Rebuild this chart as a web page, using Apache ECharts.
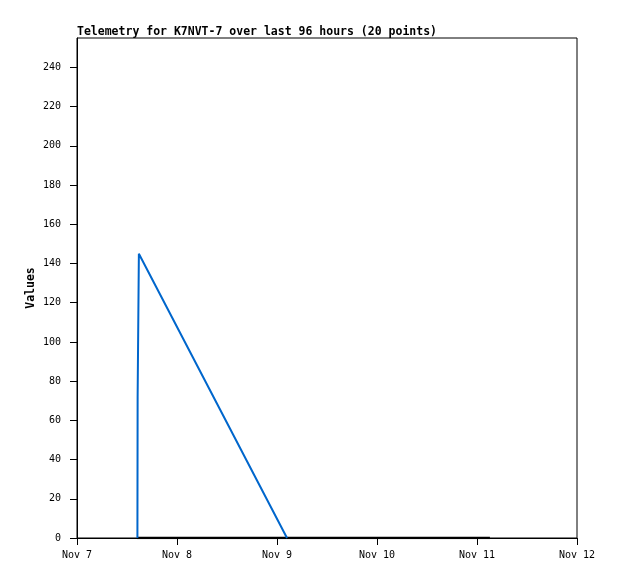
<!DOCTYPE html>
<html>
<head>
<meta charset="utf-8">
<script src="https://cdn.jsdelivr.net/npm/echarts@6/dist/echarts.min.js"></script>
<style>html,body{margin:0;padding:0;background:#fff}#c{width:618px;height:579px}</style>
</head>
<body>
<div id="c"></div>
<script>
// hours since Nov 7 00:00
var xTickLabels = ['Nov 7', 'Nov 8', 'Nov 9', 'Nov 10', 'Nov 11', 'Nov 12'];
var xTickHours = [0, 24, 48, 72, 96, 120];
var yTicks = [0, 20, 40, 60, 80, 100, 120, 140, 160, 180, 200, 220, 240];
var blueHours = [14.5, 14.55, 14.85, 50.4];
var blueValues = [0, 72, 145, 0];
var blackHours = [14.4, 99.1];
var blackValues = [0, 0];

function pairs(xs, ys) { return xs.map(function (x, i) { return [x, ys[i]]; }); }

var font = 'DejaVu Sans Mono';
var chart = echarts.init(document.getElementById('c'), null, { renderer: 'canvas' });
chart.setOption({
  animation: false,
  backgroundColor: '#fff',
  title: {
    text: 'Telemetry for K7NVT-7 over last 96 hours (20 points)',
    left: 72, top: 21,
    textStyle: { fontFamily: font, fontSize: 11.5, fontWeight: 'bold', color: '#000' }
  },
  grid: { left: 77, right: 41, top: 38, bottom: 41, show: true, borderColor: '#000', borderWidth: 1, backgroundColor: '#fff' },
  xAxis: {
    type: 'value', min: 0, max: 120, interval: 24,
    axisLine: { show: true, lineStyle: { color: '#000', width: 1 } },
    axisTick: { show: true, inside: false, length: 7, lineStyle: { color: '#000' } },
    splitLine: { show: false },
    axisLabel: {
      margin: 12, color: '#000', fontFamily: font, fontSize: 10,
      formatter: function (v) { var i = xTickHours.indexOf(v); return i >= 0 ? xTickLabels[i] : ''; }
    }
  },
  yAxis: {
    type: 'value', min: 0, max: 255, interval: 20,
    name: 'Values', nameLocation: 'middle', nameGap: 40, nameRotate: 90, nameMoveOverlap: false,
    nameTextStyle: { fontFamily: font, fontSize: 11.5, fontWeight: 'bold', color: '#000' },
    axisLine: { show: true, lineStyle: { color: '#000', width: 1 } },
    axisTick: { show: true, length: 7, customValues: yTicks, lineStyle: { color: '#000' } },
    splitLine: { show: false },
    axisLabel: { margin: 16, color: '#000', fontFamily: font, fontSize: 10, customValues: yTicks }
  },
  series: [
    { type: 'line', data: pairs(blackHours, blackValues), showSymbol: false, lineStyle: { color: '#000', width: 2.5 }, z: 3 },
    { type: 'line', data: pairs(blueHours, blueValues), showSymbol: false, lineStyle: { color: '#0066cc', width: 2 }, z: 4 }
  ]
});
</script>
</body>
</html>
